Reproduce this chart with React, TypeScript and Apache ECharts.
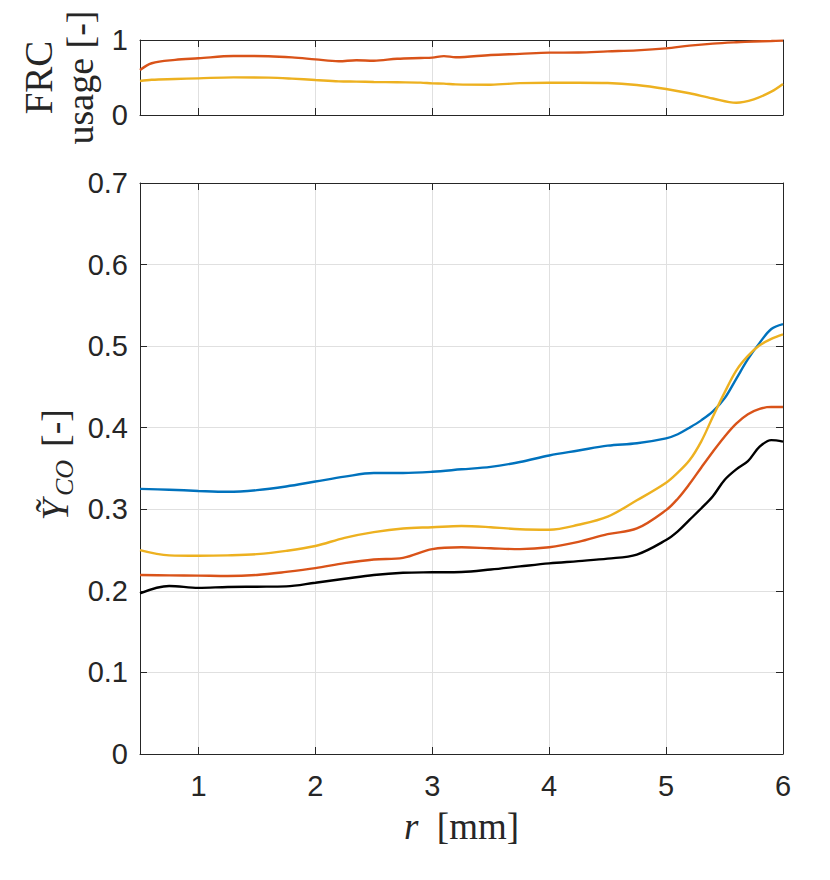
import React, { useEffect, useRef } from 'react';
import * as echarts from 'echarts';

// ---- data ----
const rTop = [0.5, 0.6, 0.8, 1.0, 1.3, 1.6, 1.8, 2.0, 2.2, 2.35, 2.5, 2.7, 2.9, 3.0, 3.1, 3.2, 3.5, 3.75, 4.0, 4.25, 4.5, 4.75, 5.0, 5.2, 5.4, 5.6, 5.75, 5.9, 6.0];
const frcOrange = [0.6, 0.69, 0.735, 0.756, 0.787, 0.784, 0.769, 0.742, 0.716, 0.73, 0.724, 0.75, 0.76, 0.765, 0.785, 0.77, 0.8, 0.815, 0.831, 0.833, 0.848, 0.862, 0.889, 0.925, 0.952, 0.97, 0.98, 0.986, 0.991];
const frcYellow = [0.453, 0.47, 0.48, 0.489, 0.502, 0.498, 0.485, 0.467, 0.449, 0.445, 0.44, 0.436, 0.432, 0.422, 0.418, 0.408, 0.404, 0.425, 0.431, 0.431, 0.427, 0.4, 0.347, 0.29, 0.22, 0.164, 0.209, 0.311, 0.413];

const rBottom = [0.5, 0.75, 1.0, 1.25, 1.5, 1.75, 2.0, 2.25, 2.5, 2.75, 3.0, 3.25, 3.5, 3.75, 4.0, 4.25, 4.5, 4.75, 5.0, 5.1, 5.2, 5.3, 5.4, 5.5, 5.6, 5.7, 5.8, 5.9, 6.0];
const ycoBlue = [0.325, 0.324, 0.3225, 0.3215, 0.3235, 0.328, 0.334, 0.34, 0.3445, 0.3445, 0.346, 0.349, 0.352, 0.358, 0.366, 0.372, 0.378, 0.381, 0.387, 0.392, 0.4, 0.409, 0.42, 0.436, 0.46, 0.484, 0.504, 0.521, 0.527];
const ycoYellow = [0.25, 0.2435, 0.243, 0.2435, 0.245, 0.249, 0.255, 0.265, 0.272, 0.2765, 0.278, 0.2795, 0.278, 0.2755, 0.275, 0.281, 0.291, 0.311, 0.3326, 0.345, 0.36, 0.383, 0.4135, 0.443, 0.47, 0.488, 0.501, 0.509, 0.5145];
const ycoOrange = [0.2194, 0.219, 0.2187, 0.2182, 0.2195, 0.2232, 0.2278, 0.234, 0.2385, 0.2405, 0.2512, 0.2534, 0.2522, 0.2512, 0.2534, 0.26, 0.2695, 0.2765, 0.299, 0.313, 0.331, 0.351, 0.3706, 0.389, 0.405, 0.4165, 0.423, 0.4255, 0.4254];
const ycoBlack = [0.197, 0.206, 0.2037, 0.2048, 0.2051, 0.2055, 0.21, 0.2148, 0.2195, 0.2222, 0.2228, 0.2232, 0.2262, 0.23, 0.2337, 0.2365, 0.2395, 0.2445, 0.2623, 0.273, 0.287, 0.301, 0.316, 0.336, 0.349, 0.359, 0.3767, 0.3848, 0.383];

const xRange = [0.5, 6];
const yRangeTop = [0, 1];
const yRangeBottom = [0, 0.7];

const COLORS = { blue: '#0072BD', orange: '#D95319', yellow: '#EDB120', black: '#000000' };
const AX = '#262626';
const GRID = '#e0e0e0';
const SANS = '"Liberation Sans", Helvetica, Arial, sans-serif';
const SERIF = '"Liberation Serif", "Times New Roman", serif';

function pairs(xs: number[], ys: number[]) {
  return xs.map((x, i) => [x, ys[i]]);
}

function xAx(gridIndex: number, position: 'top' | 'bottom', labels: boolean, grid: boolean) {
  return {
    type: 'value',
    gridIndex,
    position,
    min: xRange[0],
    max: xRange[1],
    minInterval: 1,
    maxInterval: 1,
    axisLine: { show: true, onZero: false, lineStyle: { color: AX, width: 1 } },
    axisTick: { show: true, inside: true, length: 7, lineStyle: { color: AX, width: 1 } },
    axisLabel: {
      show: labels,
      showMinLabel: false,
      margin: 17,
      fontSize: 29,
      fontFamily: SANS,
      color: AX,
      formatter: (v: number) => (Number.isInteger(v) ? String(v) : ''),
    },
    splitLine: { show: grid, lineStyle: { color: GRID, width: 1 } },
  };
}

function yAx(gridIndex: number, position: 'left' | 'right', range: number[], interval: number, labels: boolean, grid: boolean) {
  return {
    type: 'value',
    gridIndex,
    position,
    min: range[0],
    max: range[1],
    interval,
    axisLine: { show: true, onZero: false, lineStyle: { color: AX, width: 1 } },
    axisTick: { show: true, inside: true, length: 7, lineStyle: { color: AX, width: 1 } },
    axisLabel: {
      show: labels,
      margin: 12,
      fontSize: 29,
      fontFamily: SANS,
      color: AX,
      formatter: (v: number) => (Math.abs(v) < 1e-9 ? '0' : interval < 1 ? v.toFixed(1) : String(Math.round(v))),
    },
    splitLine: { show: grid, lineStyle: { color: GRID, width: 1 } },
  };
}

function line(name: string, color: string, data: number[][], xi: number, yi: number) {
  return {
    name,
    type: 'line',
    xAxisIndex: xi,
    yAxisIndex: yi,
    data,
    showSymbol: false,
    symbol: 'none',
    smooth: 0.35,
    lineStyle: { color, width: 2.4 },
    itemStyle: { color },
  };
}

export default function App() {
  const ref = useRef<HTMLDivElement>(null);

  useEffect(() => {
    document.body.style.margin = '0';
    if (!ref.current) return;
    const chart = echarts.init(ref.current, undefined, { renderer: 'svg' });
    const ylabelGroup = {
      type: 'group',
      x: 54.5,
      y: 466,
      rotation: Math.PI / 2,
      children: [
        { type: 'text', x: -44, y: 0, style: { text: 'Ỹ', fontSize: 38, fontStyle: 'italic', fontFamily: SERIF, fill: AX, align: 'center', verticalAlign: 'middle' } },
        { type: 'text', x: -12, y: 9.5, style: { text: 'CO', fontSize: 26, fontStyle: 'italic', fontFamily: SERIF, fill: AX, align: 'center', verticalAlign: 'middle' } },
        { type: 'text', x: 38, y: 0, style: { text: '[-]', fontSize: 38, fontFamily: SERIF, fill: AX, align: 'center', verticalAlign: 'middle' } },
      ],
    };
    chart.setOption({
      animation: false,
      backgroundColor: '#ffffff',
      grid: [
        { left: 140, top: 40, width: 643, height: 75 },
        { left: 140, top: 183, width: 643, height: 571 },
      ],
      xAxis: [
        xAx(0, 'bottom', false, true),
        xAx(0, 'top', false, false),
        xAx(1, 'bottom', true, true),
        xAx(1, 'top', false, false),
      ],
      yAxis: [
        yAx(0, 'left', yRangeTop, 1, true, false),
        yAx(0, 'right', yRangeTop, 1, false, false),
        yAx(1, 'left', yRangeBottom, 0.1, true, true),
        yAx(1, 'right', yRangeBottom, 0.1, false, false),
      ],
      series: [
        line('FRC usage orange', COLORS.orange, pairs(rTop, frcOrange), 0, 0),
        line('FRC usage yellow', COLORS.yellow, pairs(rTop, frcYellow), 0, 0),
        line('Y_CO blue', COLORS.blue, pairs(rBottom, ycoBlue), 2, 2),
        line('Y_CO yellow', COLORS.yellow, pairs(rBottom, ycoYellow), 2, 2),
        line('Y_CO orange', COLORS.orange, pairs(rBottom, ycoOrange), 2, 2),
        line('Y_CO black', COLORS.black, pairs(rBottom, ycoBlack), 2, 2),
      ],
      graphic: [
        { type: 'text', x: 38.5, y: 77.5, rotation: Math.PI / 2, style: { text: 'FRC', fontSize: 39, fontFamily: SERIF, fill: AX, align: 'center', verticalAlign: 'middle' } },
        { type: 'text', x: 80, y: 77.5, rotation: Math.PI / 2, style: { text: 'usage [-]', fontSize: 38, fontFamily: SERIF, fill: AX, align: 'center', verticalAlign: 'middle' } },
        ylabelGroup,
        {
          type: 'text',
          x: 461.5,
          y: 826,
          style: {
            text: '{i|r}  {n|[mm]}',
            fontSize: 37,
            fontFamily: SERIF,
            fill: AX,
            align: 'center',
            verticalAlign: 'middle',
            rich: {
              i: { fontSize: 37, fontStyle: 'italic', fontFamily: SERIF, fill: AX },
              n: { fontSize: 37, fontFamily: SERIF, fill: AX },
            },
          },
        },
      ],
    });
    return () => chart.dispose();
  }, []);

  return <div ref={ref} style={{ width: 830, height: 880 }} />;
}
